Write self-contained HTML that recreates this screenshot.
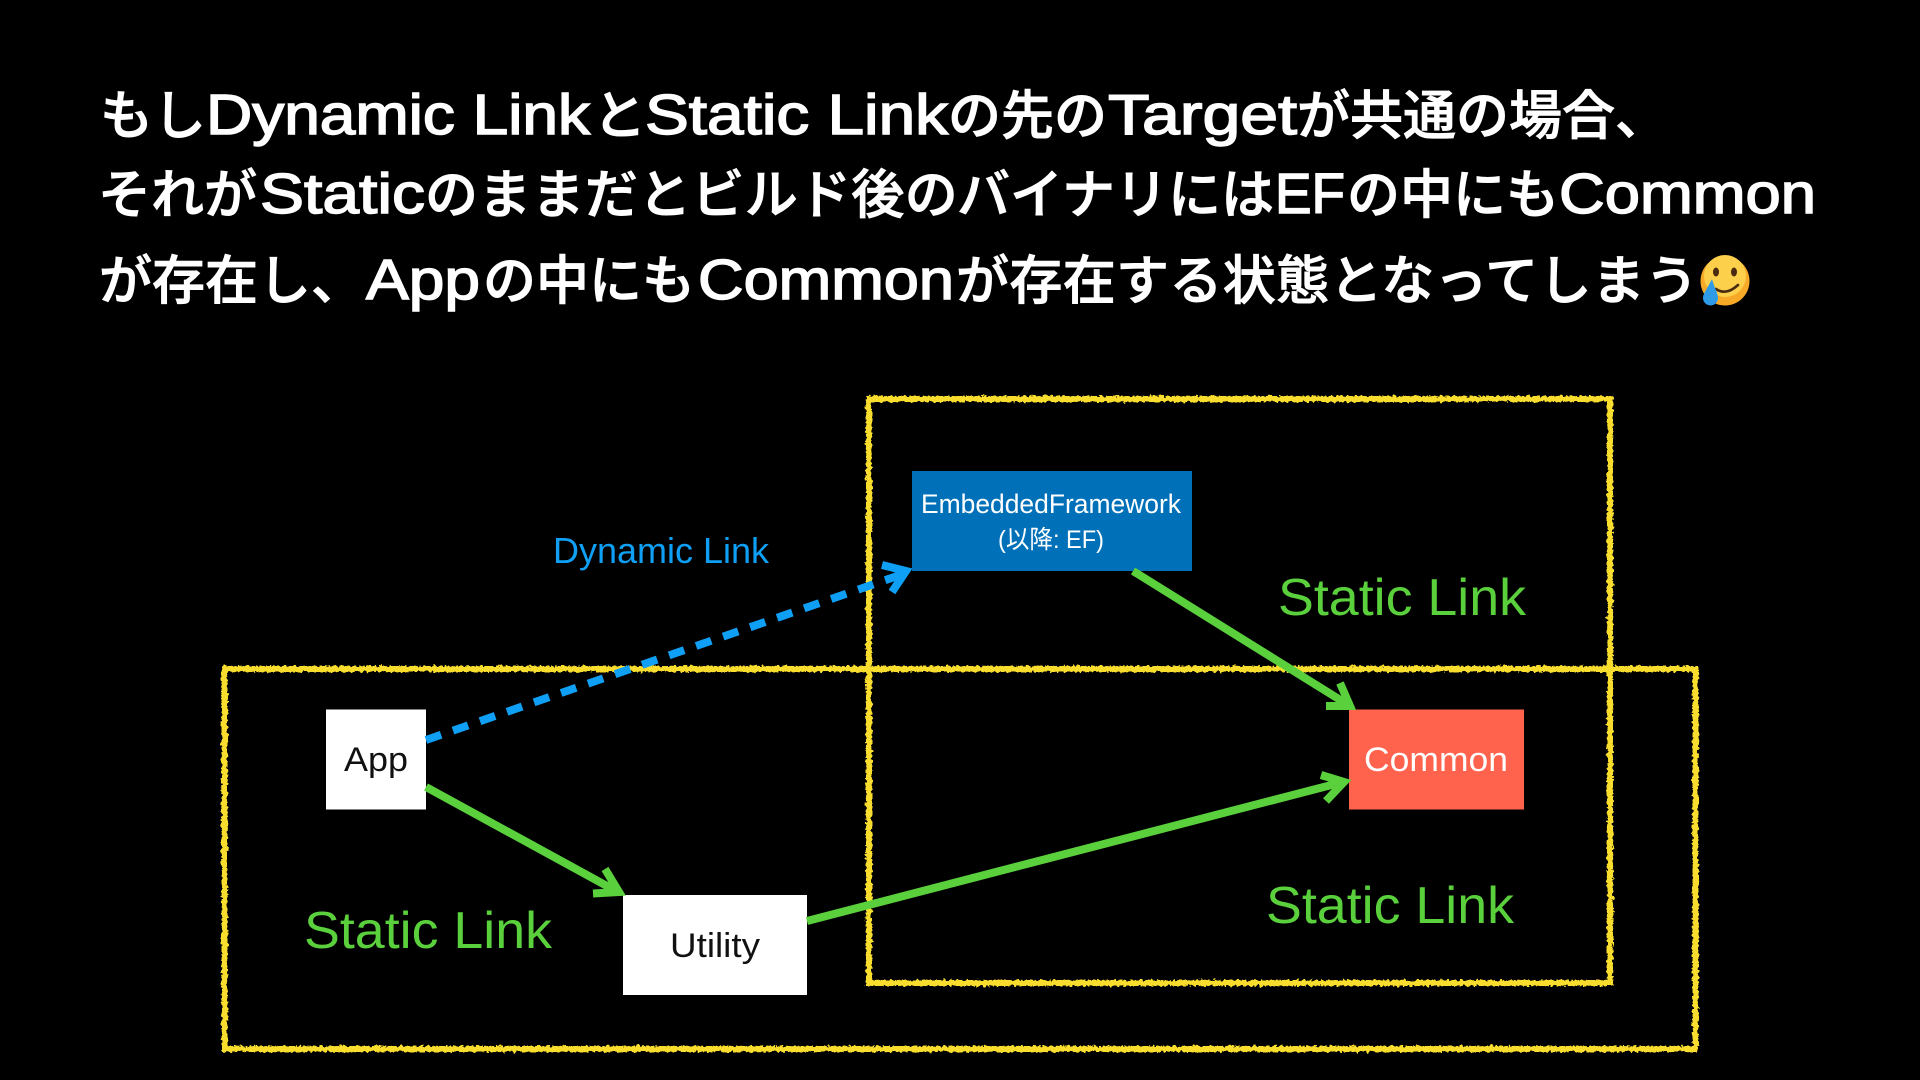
<!DOCTYPE html>
<html lang="ja">
<head>
<meta charset="utf-8">
<title>Dynamic Link / Static Link</title>
<style>
html,body{margin:0;padding:0;background:#000;width:1920px;height:1080px;overflow:hidden}
svg{display:block}
.t{font-family:"Liberation Sans","Noto Sans CJK JP",sans-serif;fill:#fff;font-size:53px;font-weight:500}
.l{stroke:#fff;stroke-width:1.5;font-size:57px}
.j{font-family:"Noto Sans CJK JP","Liberation Sans",sans-serif;stroke:#fff;stroke-width:.9}
.n{font-family:"Liberation Sans","Noto Sans CJK JP",sans-serif}
</style>
</head>
<body>
<svg width="1920" height="1080" viewBox="0 0 1920 1080" xmlns="http://www.w3.org/2000/svg">
<defs>
<filter id="chalk" x="-2%" y="-2%" width="104%" height="104%">
<feTurbulence type="fractalNoise" baseFrequency="0.3" numOctaves="2" seed="4" result="n"/>
<feDisplacementMap in="SourceGraphic" in2="n" scale="5" xChannelSelector="R" yChannelSelector="G"/>
</filter>
</defs>
<rect width="1920" height="1080" fill="#000"/>

<!-- Title -->
<g class="t">
<text class="j" x="100" y="134">もし</text>
<text class="l" x="206" y="134" textLength="384" lengthAdjust="spacingAndGlyphs">Dynamic Link</text>
<text class="j" x="593" y="134">と</text>
<text class="l" x="645" y="134" textLength="303" lengthAdjust="spacingAndGlyphs">Static Link</text>
<text class="j" x="948" y="134">の先の</text>
<text class="l" x="1108" y="134" textLength="189" lengthAdjust="spacingAndGlyphs">Target</text>
<text class="j" x="1297" y="134">が共通の場合、</text>

<text class="j" x="98" y="213">それが</text>
<text class="l" x="260" y="213" textLength="165" lengthAdjust="spacingAndGlyphs">Static</text>
<text class="j" x="425" y="213" letter-spacing=".3">のままだとビルド後の</text>
<text class="j" x="957" y="213">バイナリには</text>
<text class="l" x="1275" y="213" textLength="70" lengthAdjust="spacingAndGlyphs">EF</text>
<text class="j" x="1347" y="213">の中にも</text>
<text class="l" x="1559" y="213" textLength="257" lengthAdjust="spacingAndGlyphs">Common</text>

<text class="j" x="99" y="299">が存在し、</text>
<text class="l" x="366" y="299" textLength="114" lengthAdjust="spacingAndGlyphs">App</text>
<text class="j" x="483" y="299">の中にも</text>
<text class="l" x="698" y="299" textLength="256" lengthAdjust="spacingAndGlyphs">Common</text>
<text class="j" x="956" y="299" letter-spacing=".35">が存在する状態となってしまう</text>
</g>

<!-- Emoji -->
<g>
<circle cx="1725" cy="281" r="24.5" fill="#f7a928"/>
<circle cx="1725" cy="276" r="21" fill="#fdd04c"/>
<ellipse cx="1716" cy="272" rx="3" ry="4.500" fill="#4a2a10"/>
<ellipse cx="1734" cy="272" rx="3" ry="4.500" fill="#4a2a10"/>
<path d="M1716 289 Q1726 296 1738 285" fill="none" stroke="#4a2a10" stroke-width="2.600" stroke-linecap="round"/>
<path d="M1712 279 C1707 289 1703 294 1703 298 A6.500 6.500 0 0 0 1718 298 C1718 293 1714 287 1712 279Z" fill="#2f9be6"/>
</g>

<!-- Yellow chalk boxes -->
<g fill="none" stroke="#f8dc2e" stroke-width="6" filter="url(#chalk)">
<rect x="869" y="399" width="741" height="584"/>
<rect x="224.500" y="669" width="1471" height="380"/>
</g>

<!-- Nodes -->
<rect x="326" y="709.500" width="100" height="100" fill="#fff"/>
<rect x="623" y="895" width="184" height="100" fill="#fff"/>
<rect x="912" y="471" width="280" height="100" fill="#0071b9"/>
<rect x="1349" y="709.500" width="175" height="100" fill="#ff634d"/>

<!-- Node labels -->
<g class="n" font-size="34">
<text x="344" y="771" fill="#111" textLength="64" lengthAdjust="spacingAndGlyphs">App</text>
<text x="670" y="957" fill="#111" textLength="90" lengthAdjust="spacingAndGlyphs">Utility</text>
<text x="1364" y="771" fill="#fff" textLength="144" lengthAdjust="spacingAndGlyphs">Common</text>
<text x="921" y="513" fill="#fff" font-size="27" textLength="260" lengthAdjust="spacingAndGlyphs">EmbeddedFramework</text>
<text x="998" y="548" fill="#fff" font-size="25" textLength="106" lengthAdjust="spacingAndGlyphs">(以降: EF)</text>
</g>

<!-- Connectors -->
<g fill="none" stroke="#5ad13c" stroke-width="8">
<line x1="426" y1="787" x2="618" y2="892"/>
<polyline points="605,869 619,892 593,893.500"/>
<line x1="807" y1="921" x2="1343" y2="782"/>
<polyline points="1321,775 1344,782 1326,801"/>
<line x1="1133" y1="571" x2="1350" y2="706"/>
<polyline points="1340,683 1350,706 1326,706"/>
</g>
<g fill="none" stroke="#0fa0f5" stroke-width="8">
<line x1="426" y1="740" x2="903" y2="574" stroke-dasharray="16 12.600"/>
<polyline points="882,565 906,571 892,592"/>
</g>

<!-- Edge labels -->
<g class="n">
<text x="553" y="563" font-size="36" fill="#0fa0f5" textLength="216" lengthAdjust="spacingAndGlyphs">Dynamic Link</text>
<g font-size="52" fill="#5ad13c">
<text x="1278" y="615" textLength="248" lengthAdjust="spacingAndGlyphs">Static Link</text>
<text x="304" y="948" textLength="248" lengthAdjust="spacingAndGlyphs">Static Link</text>
<text x="1266" y="923" textLength="248" lengthAdjust="spacingAndGlyphs">Static Link</text>
</g>
</g>
</svg>
</body>
</html>
